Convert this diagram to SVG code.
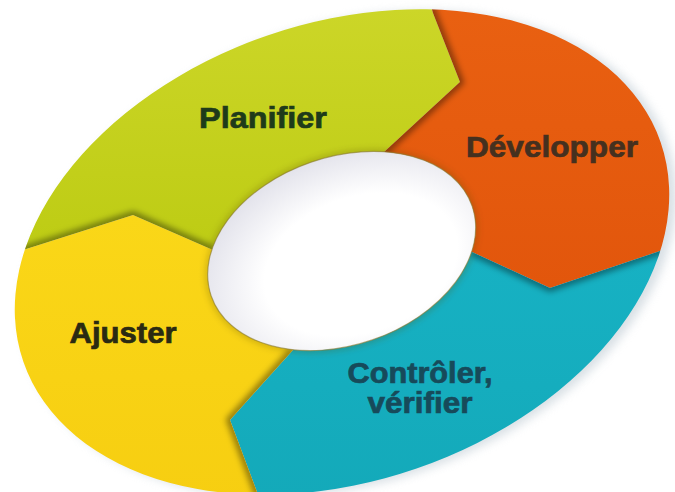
<svg xmlns="http://www.w3.org/2000/svg" width="675" height="492" viewBox="0 0 675 492">
<style>
.lbl{font-family:"Liberation Sans",Arial,sans-serif;font-weight:bold;font-size:29px;text-anchor:middle;stroke-width:0.7}
.sh{fill:none;stroke:#000;stroke-opacity:0.45;stroke-width:7;stroke-linejoin:miter;filter:url(#blur3)}
</style>
<defs>
<filter id="blur3" x="-20%" y="-20%" width="140%" height="140%"><feGaussianBlur stdDeviation="3"/></filter>
<filter id="blur6" x="-20%" y="-20%" width="140%" height="140%"><feGaussianBlur stdDeviation="5"/></filter>
<clipPath id="ring">
<path clip-rule="evenodd" transform="rotate(-19 342 252)" d="M5 252A337 229 0 1 0 679 252A337 229 0 1 0 5 252ZM204 251A138 94 0 1 0 480 251A138 94 0 1 0 204 251Z"/>
</clipPath>
<clipPath id="cGreen"><polygon points="343,250 213,250 133,215 23,250 -40,270 -40,-40 418,-40 433,13 460,82 383,153"/></clipPath>
<clipPath id="cOrange"><polygon points="343,250 383,153 460,82 433,13 418,-40 720,-40 720,231 663,250 550,288 472,252"/></clipPath>
<clipPath id="cTeal"><polygon points="343,250 472,252 550,288 663,250 720,231 720,540 275,540 257,492 230,420 293,350"/></clipPath>
<clipPath id="cYellow"><polygon points="343,250 293,350 230,420 257,492 275,540 -40,540 -40,270 23,250 133,215 213,250"/></clipPath>
<linearGradient id="gGreen" x1="0" y1="0" x2="0" y2="1"><stop offset="0" stop-color="#cfd82c"/><stop offset="1" stop-color="#bccb12"/></linearGradient>
<linearGradient id="gOrange" x1="0" y1="0" x2="0" y2="1"><stop offset="0" stop-color="#ea6212"/><stop offset="1" stop-color="#e2560c"/></linearGradient>
<linearGradient id="gTeal" x1="0" y1="0" x2="0" y2="1"><stop offset="0" stop-color="#17b2c4"/><stop offset="1" stop-color="#13a8b8"/></linearGradient>
<linearGradient id="gYellow" x1="0" y1="0" x2="0" y2="1"><stop offset="0" stop-color="#fad718"/><stop offset="1" stop-color="#f6cd10"/></linearGradient>
<radialGradient id="gHole" cx="0.55" cy="0.6" r="0.6"><stop offset="0.6" stop-color="#ffffff"/><stop offset="1" stop-color="#e4e4ec"/></radialGradient>
</defs>

<rect width="675" height="492" fill="#ffffff"/>
<ellipse cx="348" cy="256" rx="337" ry="229" transform="rotate(-19 342 252)" fill="#c9d3da" filter="url(#blur6)" opacity="0.7"/>
<ellipse cx="342" cy="251" rx="138" ry="94" transform="rotate(-19 342 252)" fill="url(#gHole)"/>

<g clip-path="url(#ring)">
<g id="node-planifier">
<polygon points="343,250 213,250 133,215 23,250 -40,270 -40,-40 418,-40 433,13 460,82 383,153" fill="url(#gGreen)"/>
<text class="lbl" x="263" y="128" fill="#1e3a1a" stroke="#1e3a1a" textLength="128" lengthAdjust="spacingAndGlyphs">Planifier</text>
</g>
<g id="node-developper">
<polygon points="343,250 383,153 460,82 433,13 418,-40 720,-40 720,231 663,250 550,288 472,252" fill="url(#gOrange)"/>
<text class="lbl" x="552" y="157" fill="#45301f" stroke="#45301f" textLength="172" lengthAdjust="spacingAndGlyphs">Développer</text>
</g>
<g id="node-controler">
<polygon points="343,250 472,252 550,288 663,250 720,231 720,540 275,540 257,492 230,420 293,350" fill="url(#gTeal)"/>
<text class="lbl" x="420" y="383" fill="#174a5a" stroke="#174a5a" textLength="145" lengthAdjust="spacingAndGlyphs">Contrôler,</text>
<text class="lbl" x="420" y="413" fill="#174a5a" stroke="#174a5a" textLength="105" lengthAdjust="spacingAndGlyphs">vérifier</text>
</g>
<g id="node-ajuster">
<polygon points="343,250 293,350 230,420 257,492 275,540 -40,540 -40,270 23,250 133,215 213,250" fill="url(#gYellow)"/>
<text class="lbl" x="123" y="343" fill="#2a2a12" stroke="#2a2a12" textLength="107" lengthAdjust="spacingAndGlyphs">Ajuster</text>
</g>
<g id="connectors">
<g clip-path="url(#cOrange)"><polyline class="sh" points="418,-40 433,13 460,82 383,153"/></g>
<g clip-path="url(#cTeal)"><polyline class="sh" points="472,252 550,288 663,250 720,231"/></g>
<g clip-path="url(#cYellow)"><polyline class="sh" points="293,350 230,420 257,492 275,540"/></g>
<g clip-path="url(#cGreen)"><polyline class="sh" points="213,250 133,215 23,250 -40,270"/></g>
</g>
<ellipse cx="342" cy="251" rx="138" ry="94" transform="rotate(-19 342 252)" fill="none" stroke="#5a4a10" stroke-opacity="0.35" stroke-width="4" filter="url(#blur3)"/>
</g>
<ellipse cx="342" cy="251" rx="138" ry="94" transform="rotate(-19 342 252)" fill="none" stroke="#8a7a30" stroke-opacity="0.6" stroke-width="1.2"/>
</svg>
